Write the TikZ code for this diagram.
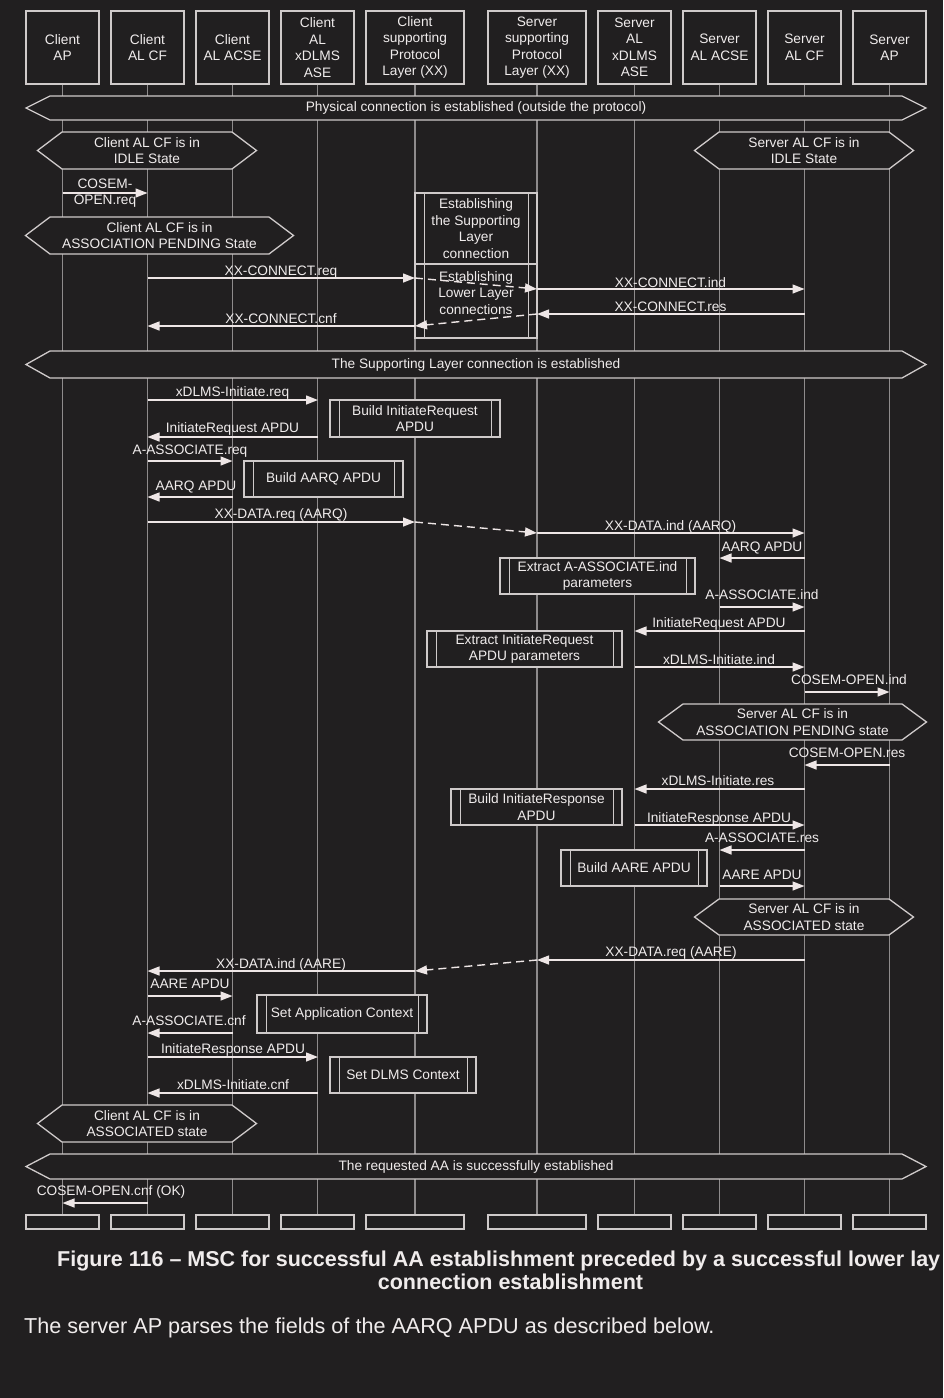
\documentclass[tikz,border=0pt]{standalone}
\usepackage{fontspec}
\setmainfont{Liberation Sans}
\usetikzlibrary{arrows.meta}
\definecolor{bgc}{HTML}{211F20}
\definecolor{linec}{HTML}{CFCACA}
\definecolor{lifec}{HTML}{8E8B8C}
\definecolor{arrc}{HTML}{EEE6E6}
\definecolor{txtc}{HTML}{F0ECEC}
\newcommand\dfont{\fontsize{13.7}{16.5}\selectfont}
\newcommand\msg[7]{%
  \coordinate (#1s) at (#3,#2);
  \coordinate (#1e) at (#4,#2);
  \draw[msgst] (#1s) -- (#1e);
  \node[lbl, anchor=base] (#1l) at (#5,{#6+5}) {#7};
}
\newcommand\dmsg[5]{%
  \coordinate (#1s) at (#2,#3);
  \coordinate (#1e) at (#4,#5);
  \draw[msgst, dash pattern=on 8pt off 5pt] (#1s) -- (#1e);
}
\newcommand\hexa[7]{%
  \draw[hexst] ({#2-#6},{(#4+#5)/2}) -- (#2,#4) -- (#3,#4) -- ({#3+#6},{(#4+#5)/2}) -- (#3,#5) -- (#2,#5) -- cycle;
  \node[lbl, align=center] (#1) at ({(#2+#3)/2},{(#4+#5)/2}) {#7};
}
\newcommand\actbox[6]{%
  \node[actst, minimum width={(#3-#2)*1pt}, minimum height={(#5-#4)*1pt}] (#1) at ({(#2+#3)/2},{(#4+#5)/2}) {#6};
  \draw[boxline] ([xshift=10pt]#1.north west) -- ([xshift=10pt]#1.south west);
  \draw[boxline] ([xshift=-9pt]#1.north east) -- ([xshift=-9pt]#1.south east);
}
\begin{document}
\begin{tikzpicture}[x=1pt,y=-1pt,
  lbl/.style={font=\dfont, text=txtc, inner sep=0pt},
  headst/.style={draw=linec, line width=1.3pt, fill=bgc, text=txtc, font=\dfont, align=center, inner sep=0pt, minimum height=73pt},
  footst/.style={draw=linec, line width=1.3pt, fill=bgc, inner sep=0pt, minimum height=14pt},
  life/.style={draw=lifec, line width=1.1pt},
  hexst/.style={draw=linec, line width=1.3pt, fill=bgc},
  actst/.style={draw=linec, line width=1.3pt, fill=bgc, text=txtc, font=\dfont, align=center, inner sep=0pt},
  boxline/.style={draw=linec, line width=1.3pt},
  msgst/.style={draw=arrc, line width=1.4pt, -{Triangle[length=12pt,width=9pt]}},
]
\fill[bgc] (0,0) rectangle (943,1398);
\useasboundingbox (0,0) rectangle (943,1398);

% lifeline x positions
\def\La{62.5}\def\Lb{147.5}\def\Lc{232.5}\def\Ld{318}\def\Le{415}
\def\Lf{537}\def\Lg{634.5}\def\Lh{719.5}\def\Li{804.5}\def\Lj{889.5}

% heads
\node[headst, minimum width=73pt] (h1) at (\La,47.5) {Client\\AP};
\node[headst, minimum width=73pt] (h2) at (\Lb,47.5) {Client\\AL CF};
\node[headst, minimum width=73pt] (h3) at (\Lc,47.5) {Client\\AL ACSE};
\node[headst, minimum width=73pt] (h4) at (317.5,47.5) {Client\\AL\\xDLMS\\ASE};
\node[headst, minimum width=98pt] (h5) at (\Le,47.5) {Client\\supporting\\Protocol\\Layer (XX)};
\node[headst, minimum width=98pt] (h6) at (\Lf,47.5) {Server\\supporting\\Protocol\\Layer (XX)};
\node[headst, minimum width=73pt] (h7) at (\Lg,47.5) {Server\\AL\\xDLMS\\ASE};
\node[headst, minimum width=73pt] (h8) at (\Lh,47.5) {Server\\AL ACSE};
\node[headst, minimum width=73pt] (h9) at (\Li,47.5) {Server\\AL CF};
\node[headst, minimum width=73pt] (h10) at (\Lj,47.5) {Server\\AP};
% feet
\node[footst, minimum width=73pt] (f1) at (\La,1222) {};
\node[footst, minimum width=73pt] (f2) at (\Lb,1222) {};
\node[footst, minimum width=73pt] (f3) at (\Lc,1222) {};
\node[footst, minimum width=73pt] (f4) at (317.5,1222) {};
\node[footst, minimum width=98pt] (f5) at (\Le,1222) {};
\node[footst, minimum width=98pt] (f6) at (\Lf,1222) {};
\node[footst, minimum width=73pt] (f7) at (\Lg,1222) {};
\node[footst, minimum width=73pt] (f8) at (\Lh,1222) {};
\node[footst, minimum width=73pt] (f9) at (\Li,1222) {};
\node[footst, minimum width=73pt] (f10) at (\Lj,1222) {};
% lifelines
\foreach \i in {1,...,10} { \draw[life] (h\i.south) -- (f\i.north); }

% state hexagons
\hexa{hx1}{50}{902}{96}{120}{24}{Physical connection is established (outside the protocol)}
\hexa{hx2}{62}{232}{132}{169}{24.5}{Client AL CF is in\\IDLE State}
\hexa{hx3}{719}{889}{132}{169}{24.5}{Server AL CF is in\\IDLE State}
\hexa{hx4}{50}{269}{217}{254}{24.5}{Client AL CF is in\\ASSOCIATION PENDING State}
\hexa{hx5}{50}{902}{351}{378}{24}{The Supporting Layer connection is established}
\hexa{hx6}{683}{902}{704}{740}{24.5}{Server AL CF is in\\ASSOCIATION PENDING state}
\hexa{hx7}{719}{889}{899}{935}{24.5}{Server AL CF is in\\ASSOCIATED state}
\hexa{hx8}{62}{232}{1105}{1142}{24.5}{Client AL CF is in\\ASSOCIATED state}
\hexa{hx9}{50}{902}{1154}{1179}{24}{The requested AA is successfully established}

% action boxes
\actbox{b1}{330}{500}{400}{437}{Build InitiateRequest\\APDU}
\actbox{b2}{244}{403}{461}{497}{Build AARQ APDU}
\actbox{b3}{500}{695}{558}{594}{Extract A-ASSOCIATE.ind\\parameters}
\actbox{b4}{427}{622}{631}{667}{Extract InitiateRequest\\APDU parameters}
\actbox{b5}{451}{622}{789}{825}{Build InitiateResponse\\APDU}
\actbox{b6}{561}{707}{850}{886}{Build AARE APDU}
\actbox{b7}{257}{427}{995}{1033}{Set Application Context}
\actbox{b8}{330}{476}{1057}{1093}{Set DLMS Context}

% establishing box
\node[actst, minimum width=122pt, minimum height=145pt] (est) at (476,265.5) {};
\draw[boxline] ([xshift=10pt]est.north west) -- ([xshift=10pt]est.south west);
\draw[boxline] ([xshift=-9pt]est.north east) -- ([xshift=-9pt]est.south east);
\coordinate (estdl) at (415,264);
\coordinate (estdr) at (537,264);
\draw[boxline] (estdl) -- (estdr);
\node[lbl, align=center] (est1) at (476,228.5) {Establishing\\the Supporting\\Layer\\connection};
\node[lbl, align=center] (est2) at (476,293) {Establishing\\Lower Layer\\connections};

% messages
\coordinate (m0s) at (\La,193); \coordinate (m0e) at (\Lb,193);
\draw[msgst] (m0s) -- (m0e);
\node[lbl, align=center] (m0l) at (105,193) {COSEM-\\OPEN.req};

\msg{m1}{278}{\Lb}{\Le}{281}{270}{XX-CONNECT.req}
\dmsg{d1}{\Le}{278}{\Lf}{289}
\msg{m2}{289}{\Lf}{\Li}{670.5}{282}{XX-CONNECT.ind}
\msg{m3}{314}{\Li}{\Lf}{670.5}{306}{XX-CONNECT.res}
\dmsg{d2}{\Lf}{314}{\Le}{326}
\msg{m4}{326}{\Le}{\Lb}{281}{318}{XX-CONNECT.cnf}

\msg{m5}{400}{\Lb}{\Ld}{232.5}{391}{xDLMS-Initiate.req}
\msg{m6}{437}{\Ld}{\Lb}{232.5}{427}{InitiateRequest APDU}
\msg{m7}{461}{\Lb}{\Lc}{190}{449}{A-ASSOCIATE.req}
\msg{m8}{497}{\Lc}{\Lb}{196}{485}{AARQ APDU}
\msg{m9}{522}{\Lb}{\Le}{281}{513}{XX-DATA.req (AARQ)}
\dmsg{d3}{\Le}{522}{\Lf}{533}
\msg{m10}{533}{\Lf}{\Li}{670.5}{525}{XX-DATA.ind (AARQ)}
\msg{m11}{558}{\Li}{\Lh}{762}{546}{AARQ APDU}
\msg{m12}{607}{\Lh}{\Li}{762}{594}{A-ASSOCIATE.ind}
\msg{m13}{631}{\Li}{\Lg}{719}{622}{InitiateRequest APDU}
\msg{m14}{667}{\Lg}{\Li}{719}{659}{xDLMS-Initiate.ind}
\msg{m15}{692}{\Li}{\Lj}{849}{679}{COSEM-OPEN.ind}
\msg{m16}{765}{\Lj}{\Li}{847}{752}{COSEM-OPEN.res}
\msg{m17}{789}{\Li}{\Lg}{718}{780}{xDLMS-Initiate.res}
\msg{m18}{825}{\Lg}{\Li}{719}{817}{InitiateResponse APDU}
\msg{m19}{850}{\Li}{\Lh}{762}{837}{A-ASSOCIATE.res}
\msg{m20}{886}{\Lh}{\Li}{762}{874}{AARE APDU}
\msg{m21}{960}{\Li}{\Lf}{671}{951}{XX-DATA.req (AARE)}
\dmsg{d4}{\Lf}{960}{\Le}{971}
\msg{m22}{971}{\Le}{\Lb}{281}{963}{XX-DATA.ind (AARE)}
\msg{m23}{996}{\Lb}{\Lc}{190}{983}{AARE APDU}
\msg{m24}{1033}{\Lc}{\Lb}{189}{1020}{A-ASSOCIATE.cnf}
\msg{m25}{1057}{\Lb}{\Ld}{233}{1048}{InitiateResponse APDU}
\msg{m26}{1093}{\Ld}{\Lb}{233}{1084}{xDLMS-Initiate.cnf}
\msg{m27}{1203}{\Lb}{\La}{111}{1190}{COSEM-OPEN.cnf (OK)}

% caption and body text
\node[anchor=base west, inner sep=0pt, text=txtc, font=\bfseries\fontsize{21.5}{25}\selectfont] (cap1) at (57,1266) {Figure 116 – MSC for successful AA establishment preceded by a successful lower lay};
\node[anchor=base, inner sep=0pt, text=txtc, font=\bfseries\fontsize{21.5}{25}\selectfont] (cap2) at (510.5,1289) {connection establishment};
\node[anchor=base west, inner sep=0pt, text=txtc, font=\fontsize{21.6}{26}\selectfont] (body) at (24,1333) {The server AP parses the fields of the AARQ APDU as described below.};
\end{tikzpicture}
\end{document}
